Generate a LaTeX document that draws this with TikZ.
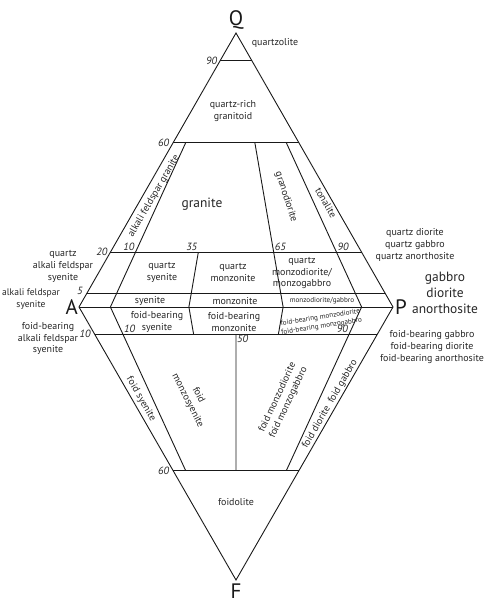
\documentclass[tikz,border=0pt]{standalone}
\usepackage{fontspec}
\setmainfont{PT Sans}
\usetikzlibrary{calc,positioning}

\begin{document}
\begin{tikzpicture}[
x=1bp, y=-1bp,
bound/.style={line width=0.9bp, draw=black!90},
field/.style={align=center, inner sep=1pt, text=black!85, font=\fontsize{10}{12}\selectfont},
tiny/.style={field, font=\fontsize{7.2}{9}\selectfont},
big/.style={field, font=\fontsize{13.5}{16.3}\selectfont},
tick/.style={inner sep=1pt, text=black!85, font=\fontsize{10.5}{12}\selectfont\itshape},
apex/.style={inner sep=1pt, text=black!90, font=\fontsize{21}{24}\selectfont}
]
\useasboundingbox (0,0) rectangle (495,612);

% corners of the double triangle
\coordinate (A) at (79,307);
\coordinate (P) at (393,307);
\coordinate (Q) at (236,33);
\coordinate (F) at (236,580);
\foreach \r in {10,35,50,65,90} {\coordinate (b\r) at ($(A)!0.\r!(P)$);}

% left ends of the level lines
\foreach \q in {90,60,20,05} {\coordinate (lq\q) at ($(A)!0.\q!(Q)$);}
\foreach \f in {10,60} {\coordinate (lf\f) at ($(A)!0.\f!(F)$);}

% ratio lines meeting the level lines
\coordinate (u10) at ($(b10)!0.2!(Q)$);
\coordinate (u35) at ($(b35)!0.2!(Q)$);
\coordinate (u65) at ($(b65)!0.2!(Q)$);
\coordinate (u90) at ($(b90)!0.2!(Q)$);
\coordinate (d10) at ($(b10)!0.1!(F)$);
\coordinate (d50) at ($(b50)!0.1!(F)$);
\coordinate (d90) at ($(b90)!0.1!(F)$);

\draw[bound] (Q) -- (A) -- (F) -- (P) -- cycle;
\draw[bound] (A) -- (P);
\foreach \q in {90,60,20,05} {\draw[bound] (lq\q) -- ($(P)!0.\q!(Q)$);}
\foreach \f in {10,60} {\draw[bound] (lf\f) -- ($(P)!0.\f!(F)$);}

\draw[bound] ($(b10)!0.6!(Q)$) -- (b10) -- ($(b10)!0.6!(F)$);
\draw[bound] (u35) -- (b35) -- ($(b35)!0.1!(F)$);
\draw[bound] ($(b65)!0.6!(Q)$) -- (b65) -- ($(b65)!0.1!(F)$);
\draw[bound] ($(b90)!0.6!(Q)$) -- (b90) -- ($(b90)!0.6!(F)$);
\draw[bound] (d50) -- ($(b50)!0.6!(F)$);

% corner letters
\node[apex, above=2bp of Q] (qlab) {Q};
\node[apex, left=0bp of A] (alab) {A};
\node[apex, right=1bp of P] (plab) {P};
\node[apex, below=3bp of F] (flab) {F};

% level numbers
\node[tick, left=2bp of lq90] (t90) {90};
\node[tick, left=3bp of lq60] (t60) {60};
\node[tick, left=2bp of lq20] (t20) {20};
\node[tick, left=3bp of lq05, yshift=2bp] (t05) {5};
\node[tick, left=3bp of lf10] (tf10) {10};
\node[tick, left=3bp of lf60] (tf60) {60};

% ratio numbers
\node[tick, anchor=south east] (r10) at (u10) {10};
\node[tick, anchor=south east] (r35) at (u35) {35};
\node[tick, anchor=south west] (r65) at (u65) {65};
\node[tick, anchor=south west] (r90) at (u90) {90};
\node[tick, anchor=south west] (s10) at (d10) {10};
\node[tick, anchor=north west] (s50) at (d50) {50};
\node[tick, anchor=south east] (s90) at (d90) {90};

% upper triangle
\node[field] (qzite) at (275,43) {quartzolite};
\node[field] (qrich) at (233,111) {quartz-rich\\granitoid};
\node[big] (gran) at (202,204) {granite};
\node[field, rotate=60] (afgran) at (154,196) {alkali feldspar granite};
\node[field, rotate=-72] (grdio) at (286,197) {granodiorite};
\node[field, rotate=-60] (tona) at (326,203) {tonalite};
\node[field] (qafs) at (63,266) {quartz\\alkali feldspar\\syenite};
\node[field] (qsye) at (162,272) {quartz\\syenite};
\node[field] (qmon) at (233,272) {quartz\\monzonite};
\node[field] (qmzd) at (302,273) {quartz\\monzodiorite/\\monzogabbro};
\node[field] (qdio) at (415,245) {quartz diorite\\quartz gabbro\\quartz anorthosite};
\node[field, font=\fontsize{9.6}{12.3}\selectfont] (afs) at (31,299) {alkali feldspar\\syenite};
\node[field] (sye) at (150,301) {syenite};
\node[field] (mon) at (235,301) {monzonite};
\node[tiny] (mzd) at (322,301) {monzodiorite/gabbro};
\node[big] (gab) at (445,293) {gabbro\\diorite\\anorthosite};

% lower triangle
\node[field] (fafs) at (48,338.5) {foid-bearing\\alkali feldspar\\syenite};
\node[field] (fsye) at (157,322) {foid-bearing\\syenite};
\node[field] (fmon) at (234,322) {foid-bearing\\monzonite};
\node[tiny, rotate=9] (fmzd) at (321,322) {foid-bearing monzodiorite\\foid-bearing monzogabbro};
\node[field] (fgab) at (432,347) {foid-bearing gabbro\\foid-bearing diorite\\foid-bearing anorthosite};
\node[field, rotate=-60] (foidsye) at (141,399) {foid syenite};
\node[field, rotate=-63] (foidmsy) at (193,398) {foid\\monzosyenite};
\node[field, rotate=65] (foidmzd) at (283,400) {foid monzodiorite\\foid monzogabbro};
\node[field, rotate=60] (foiddio) at (330,404) {foid diorite\enspace foid gabbro};
\node[field] (foidol) at (236,502) {foidolite};
\end{tikzpicture}
\end{document}
